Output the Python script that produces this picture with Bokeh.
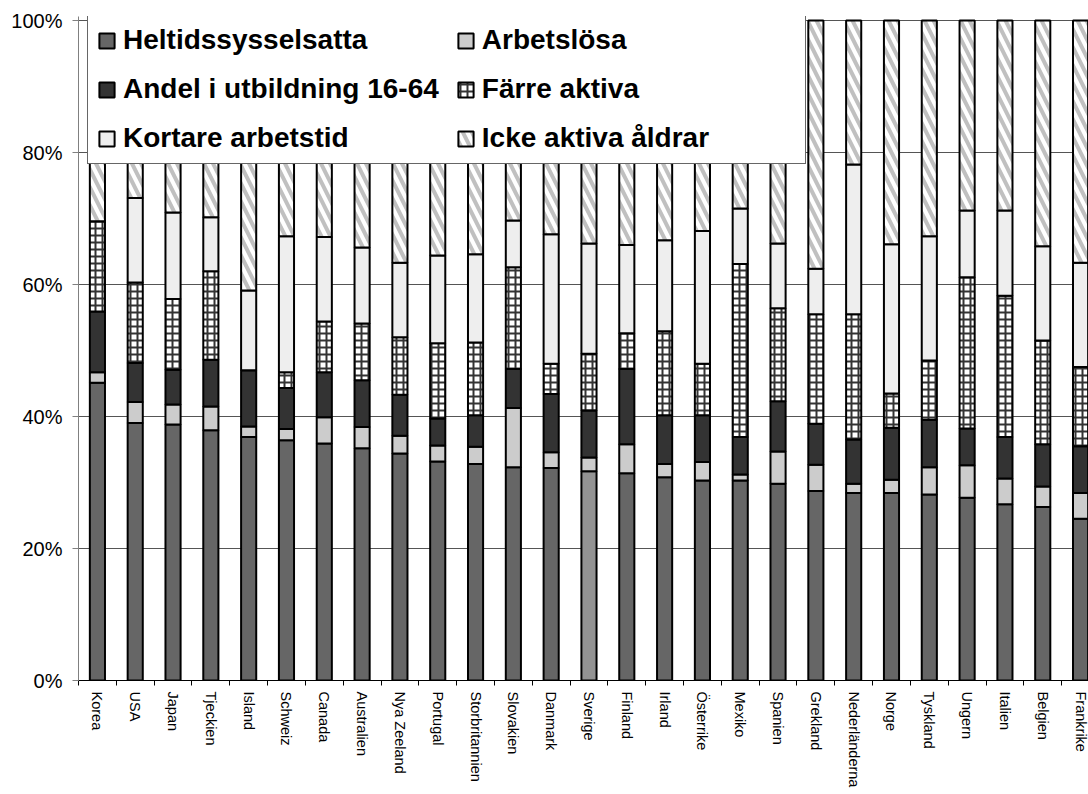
import numpy as np
from bokeh.plotting import figure
from bokeh.models import ColumnDataSource, Range1d, FixedTicker, Legend, LegendItem
from bokeh.embed import file_html
from bokeh.resources import INLINE

countries = ["Korea", "USA", "Japan", "Tjeckien", "Island", "Schweiz", "Canada",
             "Australien", "Nya Zeeland", "Portugal", "Storbritannien", "Slovakien",
             "Danmark", "Sverige", "Finland", "Irland", "Österrike", "Mexiko",
             "Spanien", "Grekland", "Nederländerna", "Norge", "Tyskland", "Ungern",
             "Italien", "Belgien", "Frankrike"]

heltid = [45.1, 39.0, 38.8, 37.9, 36.9, 36.4, 35.9, 35.2, 34.4, 33.2, 32.8, 32.3, 32.2,
          31.7, 31.4, 30.8, 30.3, 30.3, 29.8, 28.7, 28.4, 28.4, 28.2, 27.7, 26.7, 26.3, 24.5]
arbetslosa = [1.6, 3.2, 3.0, 3.6, 1.6, 1.7, 4.0, 3.2, 2.7, 2.4, 2.6, 9.0, 2.4,
              2.1, 4.4, 2.0, 2.8, 0.9, 4.9, 4.0, 1.4, 2.0, 4.1, 4.9, 3.9, 3.1, 3.9]
utbildning = [9.2, 5.9, 5.3, 7.1, 8.5, 6.2, 6.8, 7.1, 6.2, 4.1, 4.8, 5.9, 8.8,
              7.1, 11.4, 7.4, 7.1, 5.7, 7.6, 6.2, 6.7, 7.9, 7.2, 5.6, 6.3, 6.4, 7.1]
farre_aktiva = [13.7, 12.2, 10.7, 13.4, 0.0, 2.4, 7.7, 8.6, 8.7, 11.4, 11.0, 15.4, 4.6,
                8.6, 5.4, 12.7, 7.8, 26.2, 14.1, 16.6, 19.0, 5.2, 9.0, 22.9, 21.4, 15.7, 12.0]
kortare = [0.0, 12.8, 13.1, 8.2, 12.1, 20.6, 12.8, 11.5, 11.3, 13.3, 13.4, 7.1, 19.6,
           16.7, 13.4, 13.8, 20.1, 8.4, 9.8, 6.9, 22.7, 22.6, 18.8, 10.1, 12.9, 14.3, 15.8]
icke_aktiva = [30.4, 26.9, 29.1, 29.8, 40.9, 32.7, 32.8, 34.4, 36.7, 35.6, 35.4, 30.3, 32.4,
               33.8, 34.0, 33.3, 31.9, 28.5, 33.8, 37.6, 21.8, 33.9, 32.7, 28.8, 28.8, 34.2, 36.7]

series_names = ["Heltidssysselsatta", "Arbetslösa", "Andel i utbildning 16-64",
                "Färre aktiva", "Kortare arbetstid", "Icke aktiva åldrar"]
y_ticks = [0, 20, 40, 60, 80, 100]
y_tick_labels = ["0%", "20%", "40%", "60%", "80%", "100%"]

layers = [heltid, arbetslosa, utbildning, farre_aktiva, kortare, icke_aktiva]
n = len(countries)
xs = np.arange(n) + 0.5

styles = [
    dict(fill_color="#666666"),
    dict(fill_color="#cccccc"),
    dict(fill_color="#333333"),
    dict(fill_color="white", hatch_pattern="cross", hatch_color="#333333",
         hatch_scale=7, hatch_weight=2),
    dict(fill_color="#eeeeee"),
    dict(fill_color="white", hatch_pattern="left_diagonal_line", hatch_color="#c0c0c0",
         hatch_scale=18, hatch_weight=4),
]

# frame: 664 px tall, 100% sits 4 px below the frame top (legend pokes above it)
p = figure(frame_width=1010, frame_height=664, x_range=Range1d(0, 26.71),
           y_range=Range1d(0, 100 * 664 / 660), output_backend="svg",
           toolbar_location=None, min_border_left=78, min_border_right=0,
           min_border_top=16, min_border_bottom=114)
p.outline_line_color = None
p.background_fill_color = "white"

bottom = np.zeros(n)
renderers = []
for i, (vals, st) in enumerate(zip(layers, styles)):
    vals = np.array(vals, dtype=float)
    top = bottom + vals
    data = dict(x=xs, bottom=bottom.copy(), top=top)
    if i == 0:
        cols = ["#666666"] * n
        cols[countries.index("Sverige")] = "#939393"
        data["color"] = cols
        st = dict(fill_color="color")
    src = ColumnDataSource(data)
    r = p.vbar(x="x", bottom="bottom", top="top", width=0.4, source=src,
               line_color="black", line_width=2, **st)
    renderers.append(r)
    bottom = top

# grid
p.xgrid.visible = False
p.ygrid.ticker = FixedTicker(ticks=y_ticks)
p.ygrid.grid_line_color = "#555555"
p.ygrid.grid_line_width = 1

# y axis
p.yaxis.ticker = FixedTicker(ticks=y_ticks)
p.yaxis.major_label_overrides = {t: l for t, l in zip(y_ticks, y_tick_labels)}
p.yaxis.major_label_text_font = "Liberation Sans"
p.yaxis.major_label_text_font_size = "20px"
p.yaxis.major_label_text_color = "black"
p.yaxis.axis_line_color = "#808080"
p.yaxis.major_tick_line_color = "#808080"
p.yaxis.major_tick_out = 6
p.yaxis.major_tick_in = 0
p.yaxis.minor_tick_line_color = None
p.yaxis.major_label_standoff = 10

# x axis
p.xaxis.ticker = FixedTicker(ticks=list(xs), minor_ticks=list(np.arange(n + 1)))
p.xaxis.major_label_overrides = {float(x): c for x, c in zip(xs, countries)}
p.xaxis.major_label_orientation = -np.pi / 2
p.xaxis.major_label_text_font = "Liberation Sans"
p.xaxis.major_label_text_font_size = "14.5px"
p.xaxis.major_label_text_color = "black"
p.xaxis.axis_line_color = "black"
p.xaxis.major_tick_out = 0
p.xaxis.major_tick_in = 0
p.xaxis.minor_tick_out = 5
p.xaxis.minor_tick_in = 0
p.xaxis.minor_tick_line_color = "black"
p.xaxis.major_label_standoff = 6

order = [0, 2, 4, 1, 3, 5]
items = [LegendItem(label=series_names[i], renderers=[renderers[i]]) for i in order]
legend = Legend(items=items, location=(9, 516), orientation="vertical", nrows=3,
                label_text_font="Liberation Sans", label_text_font_style="bold",
                label_text_font_size="28px", label_text_color="black",
                glyph_width=19, glyph_height=19,
                label_standoff=7, label_height=27, spacing=17, padding=9, margin=0,
                label_width=314, border_line_color="#666666", border_line_width=1.5,
                border_line_alpha=1.0,
                background_fill_color="white", background_fill_alpha=1.0)
p.add_layout(legend, "center")

open("out.html", "w").write(file_html(p, INLINE))
